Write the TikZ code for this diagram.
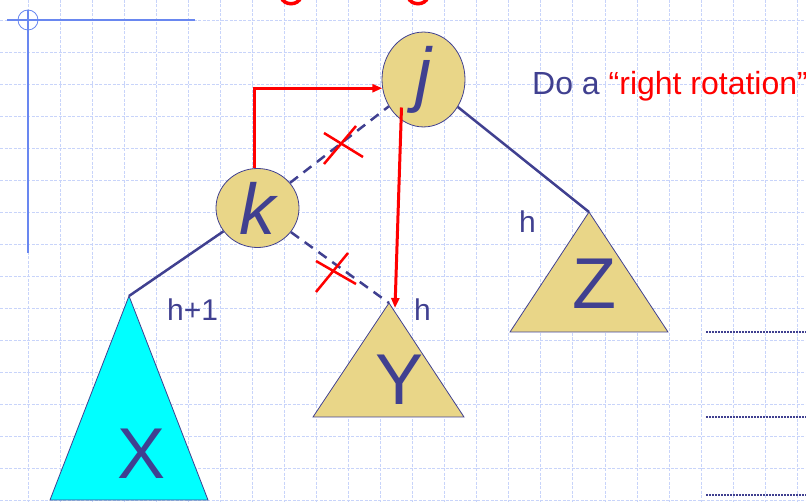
\documentclass[tikz,border=0pt]{standalone}
\usepackage{fontspec}
\setmainfont{Liberation Sans}
\usepackage{xcolor}
\usetikzlibrary{arrows.meta,calc,shapes.geometric}
\definecolor{db}{RGB}{64,64,144}
\definecolor{rd}{RGB}{255,0,0}
\definecolor{tn}{RGB}{233,214,136}
\definecolor{cy}{RGB}{0,255,255}
\definecolor{gb}{RGB}{200,212,250}
\definecolor{lb}{RGB}{105,135,240}
\newcommand{\DB}[1]{\textcolor{db}{#1}}
\newcommand{\RD}[1]{\textcolor{rd}{#1}}

\begin{document}
\begin{tikzpicture}[x=1pt,y=-1pt,
  keynode/.style={ellipse,draw=db,line width=0.8pt,fill=tn,minimum width=83pt,minimum height=79pt,inner sep=0pt,text=db,font=\fontsize{72}{72}\selectfont\itshape},
  subtree/.style={draw=db,line width=0.8pt},
  treelbl/.style={anchor=base,inner sep=0pt,text=db,font=\fontsize{72}{72}\selectfont},
  hlbl/.style={anchor=base west,inner sep=0pt,text=db,font=\fontsize{30}{36}\selectfont},
  edge/.style={db,line width=2.5pt},
  cutedge/.style={db,line width=2.5pt,dash pattern=on 10pt off 7pt},
  cut/.style={rd,line width=2.5pt},
  redarr/.style={rd,line width=3pt,-{Triangle[length=10pt,width=8pt]}},
  gridln/.style={gb,line width=0.8pt,dash pattern=on 3pt off 1.5pt},
  dotln/.style={db,line width=1.5pt,dash pattern=on 1.5pt off 1.5pt}]
  \useasboundingbox (0,0) rectangle (806,502);

  % background grid
  \foreach \gx in {0,...,24} \draw[gridln] (28+32.05*\gx,0) -- (28+32.05*\gx,502);
  \foreach \gy in {0,...,15} \draw[gridln] (0,20+32.03*\gy) -- (806,20+32.03*\gy);

  % slide corner lines
  \draw[lb,line width=1.5pt] (7,20) -- (195,20);
  \draw[lb,line width=2.5pt] (28,10) -- (28,253);
  \draw[lb,line width=0.8pt] (28,20) circle (10pt);

  % title, cut at the top
  \draw[rd,line width=3.5pt] (281,-3) .. controls (284,6) and (298,6) .. (301,-3);
  \draw[rd,line width=3.5pt] (408,-3) .. controls (411,6) and (425,6) .. (428,-3);

  % subtrees
  \coordinate (xtop) at (129,296);
  \coordinate (ytop) at (389,303);
  \coordinate (ztop) at (589,212);
  \filldraw[subtree,fill=cy] (xtop) -- (50,500) -- (208,500) -- cycle;
  \filldraw[subtree,fill=tn] (ytop) -- (313,417) -- (464,417) -- cycle;
  \filldraw[subtree,fill=tn] (ztop) -- (510,332) -- (668,332) -- cycle;
  \node[treelbl] (X) at (142,478) {X};
  \node[treelbl] (Y) at (400,405) {Y};
  \node[treelbl] (Z) at (594,309) {Z};

  % keys
  \node[keynode] (k) at (257.5,208) {k};
  \node[keynode] (j) at (423.5,79.5) {j};

  % tree edges
  \draw[edge] (k) -- (xtop);
  \draw[edge] (j) -- (ztop);
  \draw[cutedge] (k) -- (j);
  \draw[cutedge] (k) -- (ytop);

  % crossed out links
  \draw[cut] (324,164) -- (356,126) (324,133) -- (363,157);
  \draw[cut] (316,292) -- (348,253) (316,261) -- (356,284);

  % heights
  \node[hlbl] (hx) at (167,321) {h+1};
  \node[hlbl] (hy) at (414,321) {h};
  \node[hlbl] (hz) at (519,233) {h};

  % rotation moves
  \draw[redarr] ([xshift=-3pt]k.north) |- (j.192);
  \draw[redarr] ([xshift=-22pt,yshift=-28pt]j.center) -- ([xshift=6pt,yshift=-5pt]ytop);

  \node[anchor=base west,inner sep=0pt,font=\fontsize{32}{38}\selectfont] (rot) at (532,95) {\DB{Do a} \RD{“right rotation”}};

  % note lines
  \foreach \dy in {332,417,495} \draw[dotln] (706,\dy) -- (806,\dy);
\end{tikzpicture}
\end{document}
